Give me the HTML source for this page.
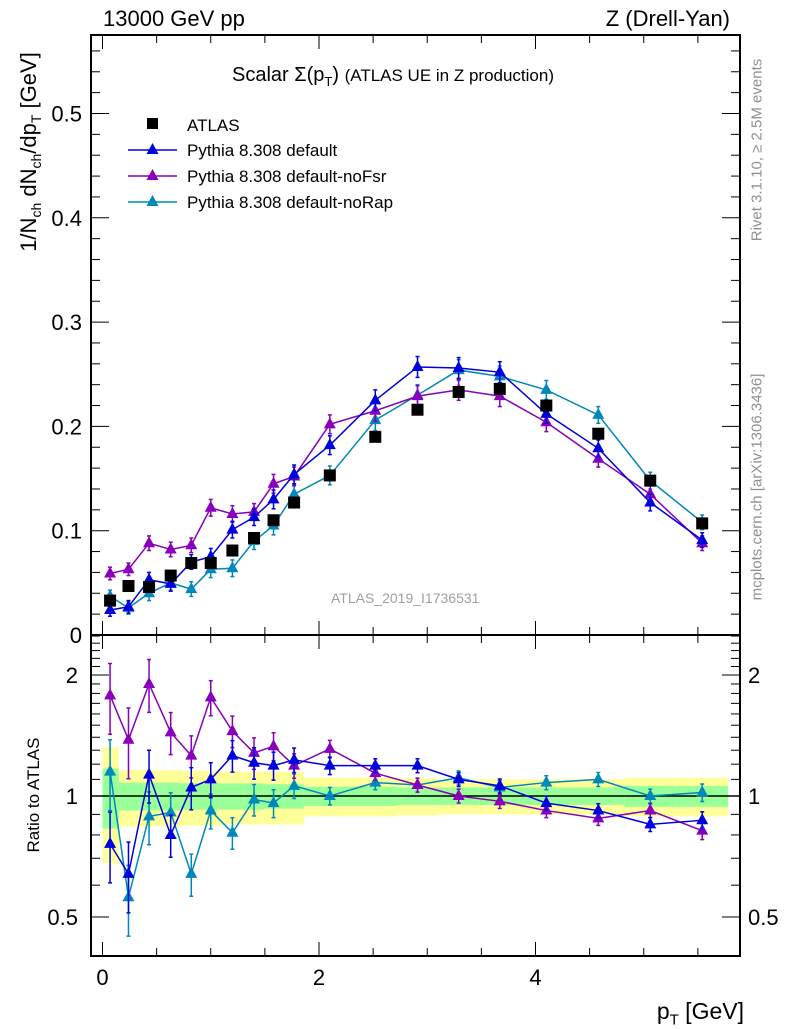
<!DOCTYPE html>
<html><head><meta charset="utf-8">
<style>
body{margin:0;background:#fff;}
svg{display:block;font-family:"Liberation Sans",sans-serif;}
</style></head>
<body>
<svg id="chart" width="786" height="1024" viewBox="0 0 786 1024" xmlns="http://www.w3.org/2000/svg">
</svg>
<script>
// ---- data ----
const ptBins = [0.07,0.24,0.43,0.63,0.82,1.0,1.2,1.4,1.58,1.77,2.1,2.52,2.91,3.29,3.67,4.1,4.58,5.06,5.54];
const atlasVals = [0.033,0.047,0.046,0.057,0.069,0.069,0.081,0.093,0.110,0.127,0.153,0.190,0.216,0.233,0.236,0.220,0.193,0.148,0.107];
const defaultVals = [0.024,0.027,0.053,0.049,0.070,0.075,0.101,0.113,0.130,0.154,0.182,0.225,0.257,0.256,0.252,0.212,0.179,0.127,0.091];
const noFsrVals = [0.059,0.063,0.088,0.082,0.086,0.122,0.116,0.118,0.145,0.152,0.202,0.215,0.229,0.235,0.229,0.204,0.169,0.135,0.088];
const noRapVals = [0.037,0.026,0.040,0.050,0.044,0.063,0.064,0.090,0.105,0.135,0.153,0.206,0.230,0.254,0.248,0.235,0.211,0.148,0.108];
const mcErr = [0.006,0.006,0.007,0.007,0.007,0.008,0.008,0.008,0.009,0.009,0.009,0.010,0.010,0.010,0.010,0.009,0.008,0.008,0.007];
const defaultRatio = [0.76,0.64,1.13,0.80,1.05,1.10,1.26,1.21,1.19,1.23,1.19,1.19,1.19,1.10,1.06,0.96,0.92,0.85,0.87];
const noFsrRatio = [1.78,1.38,1.90,1.44,1.26,1.76,1.45,1.28,1.33,1.19,1.31,1.14,1.065,1.0,0.97,0.92,0.88,0.92,0.82];
const noRapRatio = [1.15,0.56,0.89,0.91,0.64,0.92,0.81,0.98,0.96,1.06,1.0,1.08,1.065,1.11,1.05,1.08,1.10,1.0,1.02];
const ratioRelErr = [0.2,0.2,0.15,0.12,0.12,0.1,0.09,0.09,0.08,0.07,0.05,0.04,0.04,0.04,0.04,0.04,0.04,0.04,0.05];
const bandEdges = [0,0.15,0.33,0.52,0.72,0.91,1.1,1.3,1.49,1.68,1.86,2.3,2.72,3.1,3.48,3.88,4.32,4.82,5.3,5.78];
const bandYellow = [0.32,0.16,0.16,0.16,0.155,0.155,0.15,0.15,0.15,0.15,0.11,0.11,0.105,0.10,0.10,0.10,0.10,0.11,0.11];
const bandGreen = [0.17,0.08,0.08,0.08,0.075,0.075,0.075,0.075,0.07,0.07,0.055,0.055,0.05,0.05,0.05,0.05,0.05,0.06,0.06];
const mainTicks = [0,0.1,0.2,0.3,0.4,0.5];
const mainTickLabels = ["0","0.1","0.2","0.3","0.4","0.5"];
const ratioTicks = [0.5,1,2];
const ratioTickLabels = ["0.5","1","2"];
const xTicks = [0,2,4];
const xTickLabels = ["0","2","4"];

// ---- geometry ----
const L=91, R=740, T=35, M=635, B=956;
const X = v => 102.5 + v*108.25;
const Y = v => 635 - v*1043;
const YR = r => 796 - 121*Math.log2(r);
const NS="http://www.w3.org/2000/svg";
const svg=document.getElementById('chart');
function mk(tag, attrs, parent){const e=document.createElementNS(NS,tag);for(const k in attrs)e.setAttribute(k,attrs[k]);(parent||svg).appendChild(e);return e;}
function txt(x,y,s,attrs,parent){const e=mk('text',Object.assign({x:x,y:y},attrs||{}),parent);e.textContent=s;return e;}

// bands
const bandG=mk('g',{});


for(let i=0;i<bandYellow.length;i++){
  const x0=X(bandEdges[i]), x1=X(bandEdges[i+1]);
  mk('rect',{x:x0,y:YR(1+bandYellow[i]),width:x1-x0,height:YR(1-bandYellow[i])-YR(1+bandYellow[i]),fill:'#ffff99'},bandG);
}
for(let i=0;i<bandGreen.length;i++){
  const x0=X(bandEdges[i]), x1=X(bandEdges[i+1]);
  mk('rect',{x:x0,y:YR(1+bandGreen[i]),width:x1-x0,height:YR(1-bandGreen[i])-YR(1+bandGreen[i]),fill:'#99ff99'},bandG);
}
mk('line',{x1:L,x2:R,y1:YR(1),y2:YR(1),stroke:'#000','stroke-width':1.5});

// frames
const fr1=mk('rect',{x:L,y:T,width:R-L,height:M-T,fill:'none',stroke:'#000','stroke-width':2});


const fr2=mk('rect',{x:L,y:M,width:R-L,height:B-M,fill:'none',stroke:'#000','stroke-width':2});



// x ticks (both panels)
for(let v=0;v<=5.8;v+=0.5){
  const major=Math.abs(v-Math.round(v/2)*2)<1e-6;
  const len=major?14:8;
  for(const [yb,yt] of [[M,T],[B,M]]){
    mk('line',{x1:X(v),x2:X(v),y1:yb,y2:yb-len,stroke:'#000','stroke-width':1});
    mk('line',{x1:X(v),x2:X(v),y1:yt,y2:yt+len,stroke:'#000','stroke-width':1});
  }
}
xTicks.forEach((v,i)=>{const t=txt(X(v),985,xTickLabels[i],{'font-size':22,'text-anchor':'middle'});
});
// main y ticks
for(let v=0;v<=0.57;v+=0.02){
  const major=Math.abs(v*10-Math.round(v*10))<1e-6;const len=major?18:9;
  mk('line',{x1:L,x2:L+len,y1:Y(v),y2:Y(v),stroke:'#000'});
  mk('line',{x1:R,x2:R-len,y1:Y(v),y2:Y(v),stroke:'#000'});
}
mainTicks.forEach((v,i)=>{const t=txt(82,Y(v)+8,mainTickLabels[i],{'font-size':22,'text-anchor':'end'});
});
// ratio y ticks
[0.4,0.5,0.6,0.7,0.8,0.9,1,1.1,1.2,1.3,1.4,1.5,1.6,1.7,1.8,1.9,2,2.1,2.2,2.3,2.4,2.5].forEach(r=>{
  const major=ratioTicks.includes(r);const len=major?18:9;
  mk('line',{x1:L,x2:L+len,y1:YR(r),y2:YR(r),stroke:'#000'});
  mk('line',{x1:R,x2:R-len,y1:YR(r),y2:YR(r),stroke:'#000'});
});
ratioTicks.forEach((v,i)=>{
  const t=txt(78,YR(v)+8,ratioTickLabels[i],{'font-size':22,'text-anchor':'end'});
  
  const t2=txt(748,YR(v)+8,ratioTickLabels[i],{'font-size':22});
  
});

// series
function tri(x,y,c,p){mk('polygon',{points:`${x},${y-7} ${x-6},${y+4} ${x+6},${y+4}`,fill:c},p);}
function errbar(x,y0,y1,c,p){
  mk('line',{x1:x,x2:x,y1:y0,y2:y1,stroke:c,'stroke-width':1.5},p);
  mk('line',{x1:x-2,x2:x+2,y1:y0,y2:y0,stroke:c,'stroke-width':1.5},p);
  mk('line',{x1:x-2,x2:x+2,y1:y1,y2:y1,stroke:c,'stroke-width':1.5},p);
}
function series(vals,color,name,isRatio){
  const g=mk('g',{});
  
  
  const fy=isRatio?YR:Y;
  mk('polyline',{points:vals.map((v,i)=>X(ptBins[i])+','+fy(v)).join(' '),fill:'none',stroke:color,'stroke-width':1.5},g);
  vals.forEach((v,i)=>{
    const x=X(ptBins[i]);
    if(isRatio) errbar(x,YR(v*(1+ratioRelErr[i])),YR(v*(1-ratioRelErr[i])),color,g);
    else errbar(x,Y(v+mcErr[i]),Y(v-mcErr[i]),color,g);
    tri(x,fy(v),color,g);
  });
}
series(noRapVals,'#0088bb','series-norap-main',false);
series(noFsrVals,'#8800bb','series-nofsr-main',false);
series(defaultVals,'#0000dd','series-default-main',false);
const ag=mk('g',{});


atlasVals.forEach((v,i)=>{mk('rect',{x:X(ptBins[i])-6,y:Y(v)-6,width:12,height:12,fill:'#000'},ag);});
series(noRapRatio,'#0088bb','series-norap-ratio',true);
series(noFsrRatio,'#8800bb','series-nofsr-ratio',true);
series(defaultRatio,'#0000dd','series-default-ratio',true);

// legend
const lg=mk('g',{});


mk('rect',{x:147,y:118,width:11,height:11,fill:'#000'},lg);
txt(187,131,'ATLAS',{'font-size':17},lg);
[['#0000dd','Pythia 8.308 default',150],['#8800bb','Pythia 8.308 default-noFsr',176],['#0088bb','Pythia 8.308 default-noRap',202]].forEach(([c,s,y])=>{
  mk('line',{x1:128,x2:177,y1:y,y2:y,stroke:c,'stroke-width':1.5},lg);
  tri(152.5,y,c,lg);
  txt(187,y+6,s,{'font-size':17},lg);
});
</script>
<div style="position:absolute;left:0;top:0;width:786px;height:1024px;pointer-events:none;font-family:'Liberation Sans',sans-serif;">
  <div style="position:absolute;left:103px;top:6px;font-size:22px;">13000 GeV pp</div>
  <div style="position:absolute;right:56px;top:6px;font-size:22px;">Z (Drell-Yan)</div>
  <div style="position:absolute;left:232px;top:64px;font-size:20px;">Scalar Σ(p<sub style="font-size:13px">T</sub>) <span style="font-size:17px">(ATLAS UE in Z production)</span></div>
  <div style="position:absolute;left:331px;top:590px;font-size:14px;color:#a0a0a0;">ATLAS_2019_I1736531</div>
  <div style="position:absolute;left:30px;top:152px;width:0;height:0;"><div style="position:absolute;transform:translate(-50%,-50%) rotate(-90deg);white-space:nowrap;font-size:22px;">1/N<sub style="font-size:14px">ch</sub> dN<sub style="font-size:14px">ch</sub>/dp<sub style="font-size:14px">T</sub> [GeV]</div></div>
  <div style="position:absolute;left:34px;top:795px;width:0;height:0;"><div style="position:absolute;transform:translate(-50%,-50%) rotate(-90deg);white-space:nowrap;font-size:17px;">Ratio to ATLAS</div></div>
  <div style="position:absolute;left:757px;top:150px;width:0;height:0;"><div style="position:absolute;transform:translate(-50%,-50%) rotate(-90deg);white-space:nowrap;font-size:15px;color:#909090;">Rivet 3.1.10, ≥ 2.5M events</div></div>
  <div style="position:absolute;left:757px;top:487px;width:0;height:0;"><div style="position:absolute;transform:translate(-50%,-50%) rotate(-90deg);white-space:nowrap;font-size:15px;color:#909090;">mcplots.cern.ch [arXiv:1306.3436]</div></div>
  <div style="position:absolute;right:42px;top:1000px;font-size:23px;line-height:1;">p<sub style="font-size:15px">T</sub> [GeV]</div>
</div>
</body></html>
